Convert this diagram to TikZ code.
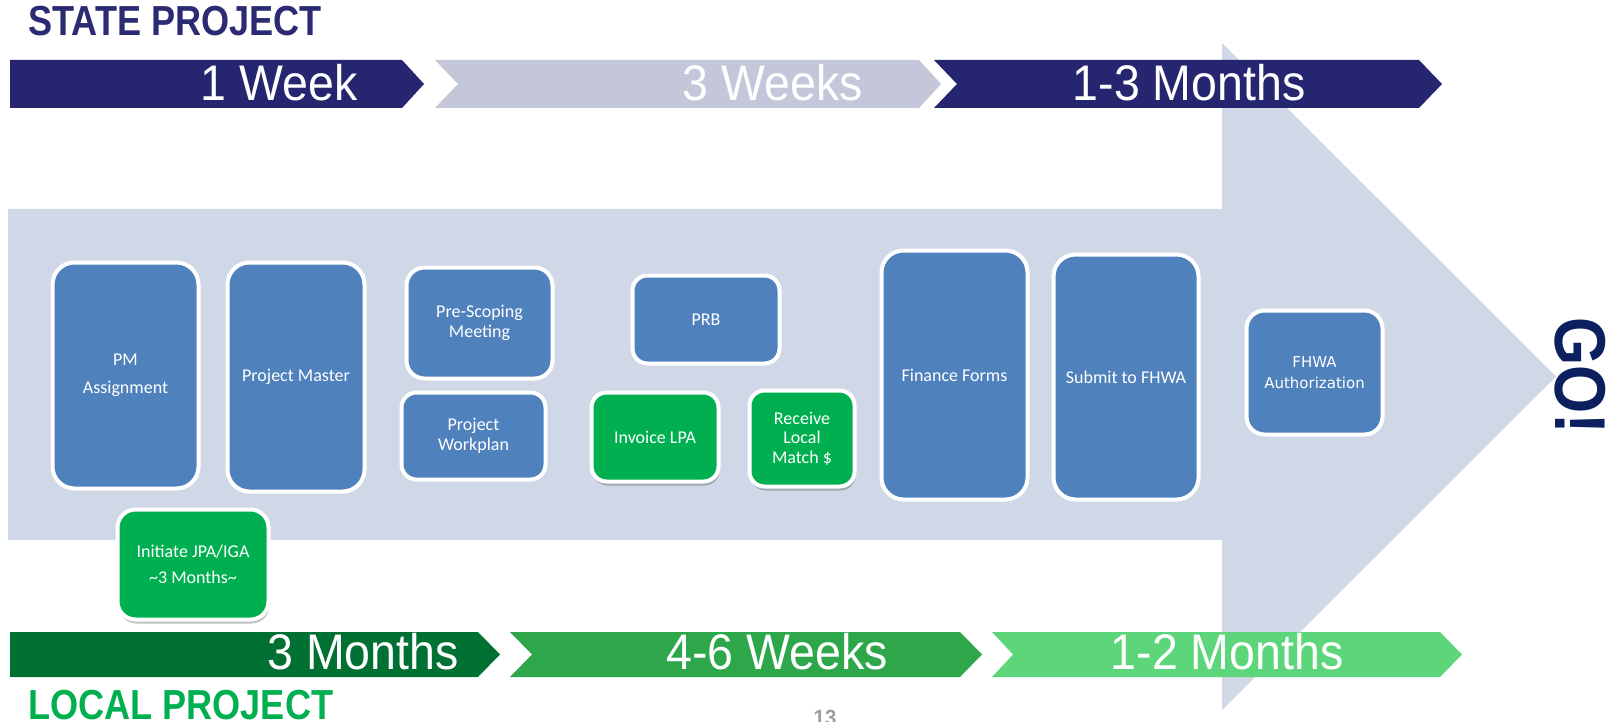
\documentclass[tikz,border=0pt]{standalone}
\usepackage{fontspec}
\setmainfont{Carlito}
\newfontfamily\barfont{Liberation Sans}[FakeStretch=0.93]
\newfontfamily\titlefont{Liberation Sans}[FakeStretch=0.86]
\newfontfamily\verdfont{DejaVu Sans}
\usetikzlibrary{shadows}
\definecolor{navybar}{RGB}{38,38,112}
\definecolor{titlenavy}{RGB}{43,43,115}
\definecolor{gonavy}{RGB}{12,31,95}
\definecolor{lavbar}{RGB}{196,198,218}
\definecolor{arrowfill}{RGB}{208,216,232}
\definecolor{boxblue}{RGB}{79,129,189}
\definecolor{boxgreen}{RGB}{0,176,80}
\definecolor{darkgreenbar}{RGB}{0,112,51}
\definecolor{midgreenbar}{RGB}{46,167,75}
\definecolor{lightgreenbar}{RGB}{93,214,123}
\definecolor{localgreen}{RGB}{0,176,80}
\begin{document}
\begin{tikzpicture}[x=1pt,y=-1pt,
  box/.style={draw=white, line width=4pt, rounded corners=18pt, text=white,
    align=center, inner sep=2pt, font=\fontsize{18}{20}\selectfont},
  bluebox/.style={box, fill=boxblue},
  greenbox/.style={box, fill=boxgreen,
    drop shadow={shadow xshift=1pt, shadow yshift=-4pt, opacity=0.35, fill=black!70}},
  bartext/.style={font=\barfont\fontsize{50}{50}\selectfont, text=white, inner sep=0pt},
  titletext/.style={font=\titlefont\bfseries\fontsize{42}{42}\selectfont, inner sep=0pt, anchor=west}
]
\useasboundingbox (0,0) rectangle (1614,722);
\fill[white] (0,0) rectangle (1614,722);

% big background arrow
\fill[arrowfill] (8,209) -- (1222,209) -- (1222,43) -- (1556,376.5) -- (1222,710) -- (1222,540) -- (8,540) -- cycle;

% state bars
\fill[navybar] (10,60) -- (402,60) -- (424,84) -- (402,108) -- (10,108) -- cycle;
\fill[lavbar] (435,60) -- (919,60) -- (941,84) -- (919,108) -- (435,108) -- (458,84) -- cycle;
\fill[navybar] (934,60) -- (1419,60) -- (1442,84) -- (1419,108) -- (934,108) -- (957,84) -- cycle;
\node[bartext] (s1) at (279,83) {1 Week};
\node[bartext] (s2) at (773,83) {3 Weeks};
\node[bartext] (s3) at (1189,83) {1-3 Months};

% local bars
\fill[darkgreenbar] (10,632) -- (478,632) -- (500,654.5) -- (478,677) -- (10,677) -- cycle;
\fill[midgreenbar] (510,632) -- (960,632) -- (982,654.5) -- (960,677) -- (510,677) -- (532,654.5) -- cycle;
\fill[lightgreenbar] (992,632) -- (1440,632) -- (1462,654.5) -- (1440,677) -- (992,677) -- (1013,654.5) -- cycle;
\node[bartext] (l1) at (363,652) {3 Months};
\node[bartext] (l2) at (777,652) {4-6 Weeks};
\node[bartext] (l3) at (1227,652) {1-2 Months};

% titles
\node[titletext, text=titlenavy] (state) at (28,21.5) {STATE PROJECT};
\node[titletext, text=localgreen] (local) at (28,705.5) {LOCAL PROJECT};
\node[rotate=-90, font=\titlefont\bfseries\fontsize{72}{72}\selectfont, text=gonavy, inner sep=0pt] (go) at (1580,375.5) {GO!};
\node[font=\barfont\bfseries\fontsize{22}{22}\selectfont, text=gray!75, anchor=north, inner sep=0pt] (pg) at (825,710) {13};

% process boxes
\node[bluebox, minimum width=146, minimum height=226, rounded corners=22pt] (pm) at (125.5,375.5) {PM\\[8pt]Assignment};
\node[bluebox, minimum width=137, minimum height=229, rounded corners=22pt] (master) at (296,377) {Project Master};
\node[bluebox, minimum width=146, minimum height=111] (prescope) at (479.5,323) {Pre-Scoping\\Meeting};
\node[bluebox, minimum width=144, minimum height=87, rounded corners=15pt] (workplan) at (473.5,436) {Project\\Workplan};
\node[bluebox, minimum width=147, minimum height=88, rounded corners=15pt] (prb) at (706,319.5) {PRB};
\node[bluebox, minimum width=146, minimum height=249, rounded corners=22pt] (finance) at (954.5,375) {Finance Forms};
\node[bluebox, minimum width=145, minimum height=245, rounded corners=22pt] (submit) at (1126,377) {Submit to FHWA};
\node[bluebox, minimum width=136, minimum height=124, font=\verdfont\fontsize{15}{21}\selectfont] (fhwa) at (1314.5,372.5) {FHWA\\Authorization};

\node[greenbox, minimum width=127, minimum height=89, rounded corners=15pt] (invoice) at (655,437) {Invoice LPA};
\node[greenbox, minimum width=105, minimum height=96, rounded corners=15pt, font=\fontsize{18}{19.5}\selectfont] (receive) at (802,438.5) {Receive\\Local\\Match \$};
\node[greenbox, minimum width=151, minimum height=110] (initiate) at (193,564.5) {Initiate JPA/IGA\\[6pt]\textasciitilde3 Months\textasciitilde};
\end{tikzpicture}
\end{document}
